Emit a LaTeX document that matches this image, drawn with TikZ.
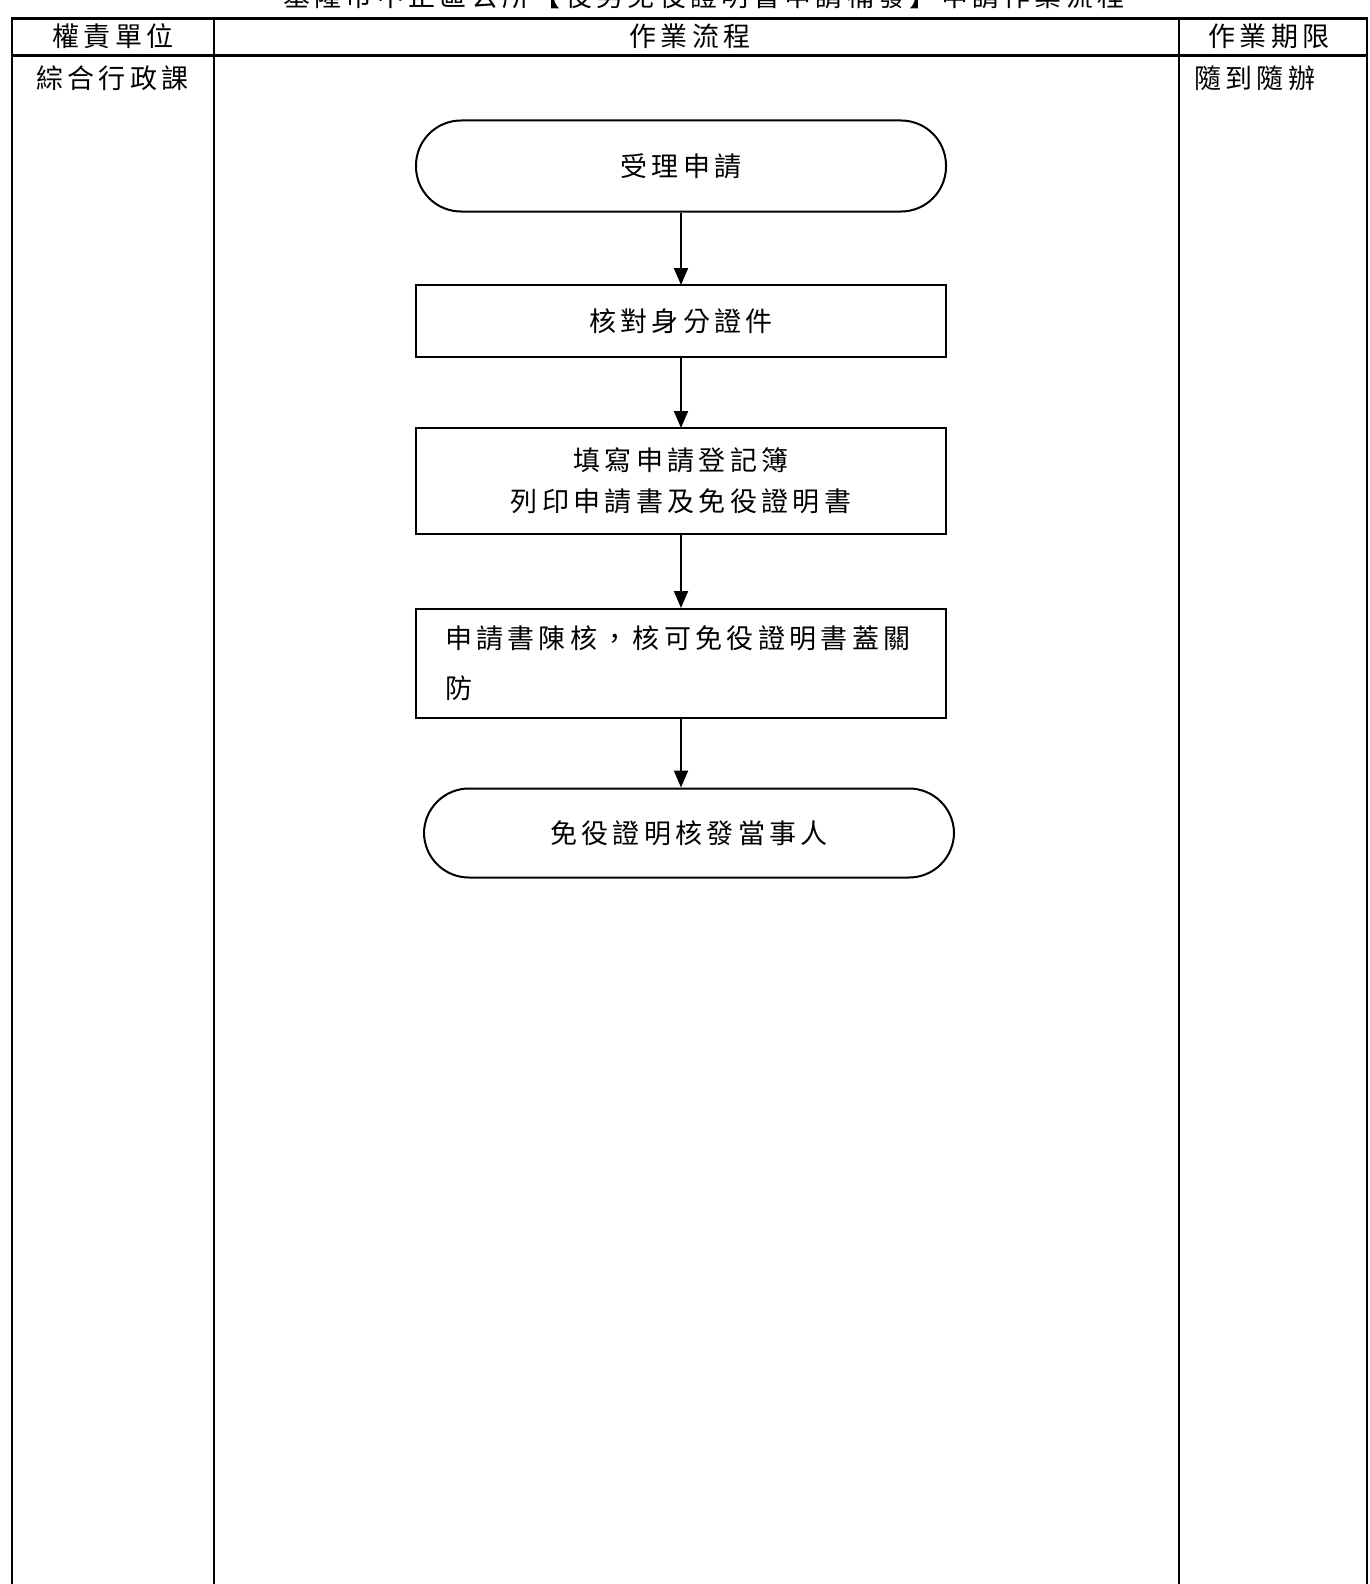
\documentclass[tikz,border=0pt]{standalone}
\usepackage{fontspec}
\setmainfont{Noto Sans CJK TC}[LetterSpace=16]
\usetikzlibrary{arrows.meta}

\begin{document}
\begin{tikzpicture}[x=1pt,y=-1pt,
	every node/.style={font=\fontsize{27}{41}\selectfont, inner sep=0pt},
	flowbox/.style={rectangle, draw, line width=2pt, minimum width=530pt, align=center},
	termbox/.style={flowbox, rounded corners=45pt},
	flowarrow/.style={line width=2pt, -{Triangle[length=17pt,width=14pt]}}]

	\useasboundingbox (0,0) rectangle (1369,1584);

	\node[anchor=base] (title) at (704,7) {基隆市中正區公所【役男免役證明書申請補發】申請作業流程};

	\draw[line width=3pt] (11,19)--(1368,19);
	\draw[line width=3pt] (11,56)--(1368,56);
	\draw[line width=2pt] (12,19)--(12,1584) (214,19)--(214,1584) (1179,19)--(1179,1584) (1367,19)--(1367,1584);

	\node[anchor=base] (unithead) at (113,47) {權責單位};
	\node[anchor=base] (flowhead) at (690,47) {作業流程};
	\node[anchor=base] (timehead) at (1269,47) {作業期限};
	\node[anchor=base west] (unit) at (36,89) {綜合行政課};
	\node[anchor=base west] (time) at (1194,89) {隨到隨辦};

	\node[termbox, minimum height=91pt] (apply) at (681,166) {受理申請};
	\draw[flowarrow] (apply)--(681,285);

	\node[flowbox, minimum height=72pt] (check) at (681,321) {核對身分證件};
	\draw[flowarrow] (check)--(681,428);

	\node[flowbox, minimum height=106pt] (fill) at (681,481) {填寫申請登記簿\\列印申請書及免役證明書};
	\draw[flowarrow] (fill)--(681,608);

	\node[flowbox, minimum height=109pt, align=left, text width=472pt, inner xsep=29pt] (sign) at (681,663) {申請書陳核，核可免役證明書蓋關\\[9pt]防};

	\node[termbox, minimum height=89pt] (issue) at (689,833) {免役證明核發當事人};
	\draw[flowarrow] (sign)--(sign |- issue.north);
\end{tikzpicture}
\end{document}
